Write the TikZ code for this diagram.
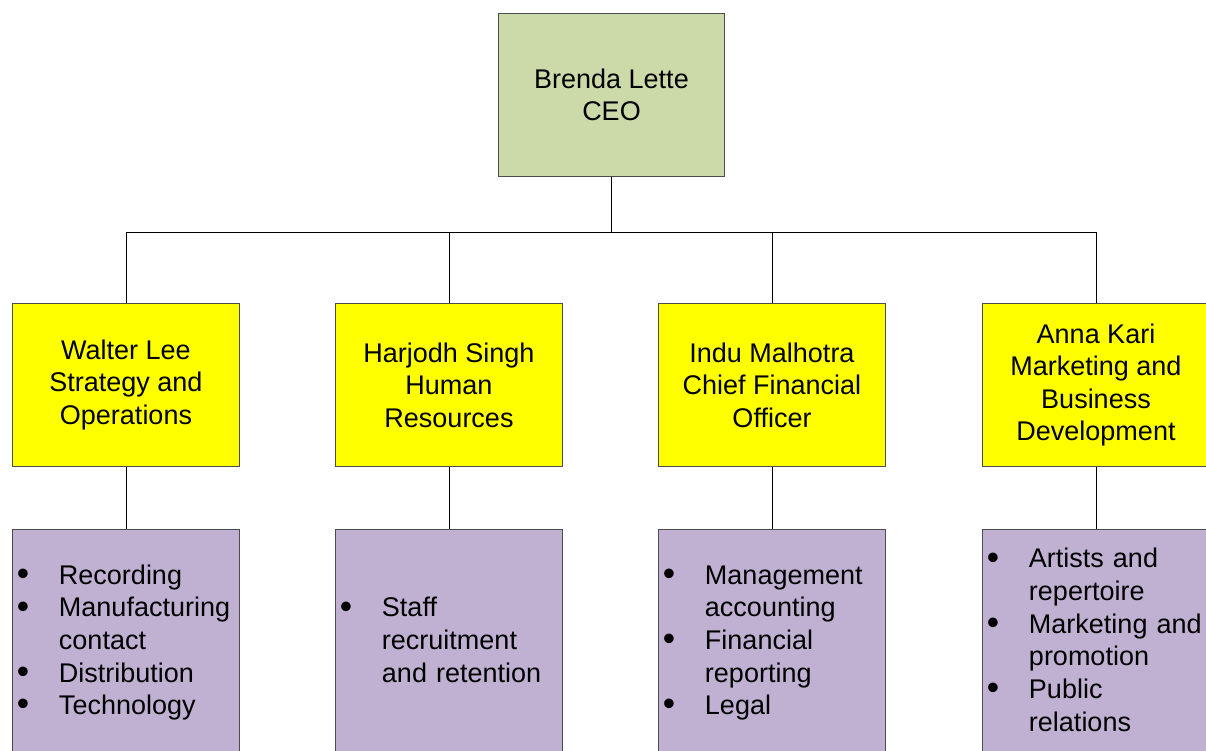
\documentclass[tikz,border=0pt]{standalone}
\usepackage{fontspec}
\setmainfont{Liberation Sans}
\usepackage{tikz}
\definecolor{ceogreen}{RGB}{204,218,170}
\definecolor{headyellow}{RGB}{255,255,0}
\definecolor{listpurple}{RGB}{192,177,211}
\newcommand{\bigdot}{\raisebox{-0.8pt}{\fontsize{25}{0}\selectfont\textbullet}}

\begin{document}
\begin{tikzpicture}[x=0.025cm, y=-0.025cm,
    box/.style={rectangle, draw=black!70, line width=0.7pt, inner sep=0pt,
      minimum width=5.65cm, font=\fontsize{19.2}{23.2}\selectfont, align=center},
    listbox/.style={box, fill=listpurple, minimum height=5.65cm,
      text width=5.45cm, align=left},
    link/.style={draw=black, line width=0.7pt}]
    \useasboundingbox (0,0) rectangle (1206,751);

    \begin{scope}[every node/.style={box}]
      \node [fill=ceogreen, minimum height=4.05cm] (ceo) at (611.5,95) {Brenda Lette\\CEO};
      \node [fill=headyellow, minimum height=4.05cm] (walter) at (126,385) {Walter Lee\\Strategy and\\Operations};
      \node [fill=headyellow, minimum height=4.05cm] (harjodh) at (449,385) {Harjodh Singh\\Human\\Resources};
      \node [fill=headyellow, minimum height=4.05cm] (indu) at (772,385) {Indu Malhotra\\Chief Financial\\Officer};
      \node [fill=headyellow, minimum height=4.05cm] (anna) at (1096,385) {Anna Kari\\Marketing and\\Business\\Development};
    \end{scope}

    \begin{scope}[every node/.style={listbox}]
      \node (walterlist) at (126,643) {\begin{tabular}{@{}p{1.05cm}@{}l@{}}
        \bigdot & Recording\\
        \bigdot & Manufacturing\\
                & contact\\
        \bigdot & Distribution\\
        \bigdot & Technology
      \end{tabular}};
      \node (harjodhlist) at (449,643) {\begin{tabular}{@{}p{1.05cm}@{}l@{}}
        \bigdot & Staff\\
                & recruitment\\
                & and retention
      \end{tabular}};
      \node (indulist) at (772,643) {\begin{tabular}{@{}p{1.05cm}@{}l@{}}
        \bigdot & Management\\
                & accounting\\
        \bigdot & Financial\\
                & reporting\\
        \bigdot & Legal
      \end{tabular}};
      \node (annalist) at (1096,643) {\begin{tabular}{@{}p{1.05cm}@{}l@{}}
        \bigdot & Artists and\\
                & repertoire\\
        \bigdot & Marketing and\\
                & promotion\\
        \bigdot & Public\\
                & relations
      \end{tabular}};
    \end{scope}

    \coordinate (bus) at (611.5,232);
    \begin{scope}[link]
      \draw (ceo) -- (bus);
      \foreach \head in {walter, harjodh, indu, anna} {
        \draw (bus) -| (\head);
        \draw (\head) -- (\head list);
      }
    \end{scope}
  \end{tikzpicture}
\end{document}
